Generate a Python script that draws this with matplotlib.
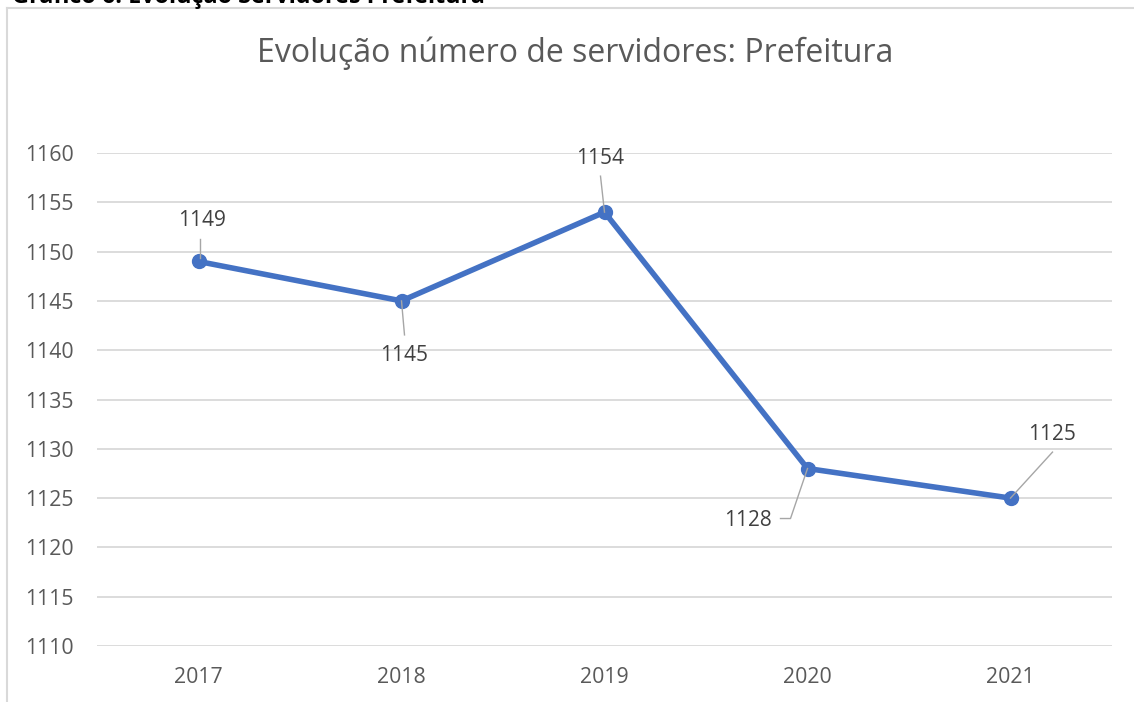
import matplotlib
matplotlib.use("Agg")
import matplotlib.pyplot as plt
from matplotlib.lines import Line2D

years = ["2017", "2018", "2019", "2020", "2021"]
servidores = [1149, 1145, 1154, 1128, 1125]
yticks = [1110, 1115, 1120, 1125, 1130, 1135, 1140, 1145, 1150, 1155, 1160]

W, H, DPI = 1134, 702, 100
fig = plt.figure(figsize=(W / DPI, H / DPI), dpi=DPI)
fig.patch.set_facecolor("white")

FONT = "Open Sans"
TICK_C = "#595959"
LBL_C = "#404040"
GRID_C = "#d9d9d9"
LINE_C = "#4472C4"

# chart-area border (left and top visible)
fig.add_artist(Line2D([7 / W, 7 / W], [0, 1 - 8 / H], transform=fig.transFigure,
                      color=GRID_C, lw=1.5))
fig.add_artist(Line2D([7 / W, 1], [1 - 8 / H, 1 - 8 / H], transform=fig.transFigure,
                      color=GRID_C, lw=1.5))

# cut-off caption above chart
fig.text(12 / W, 1 - 3 / H, "Gráfico 6: Evolução Servidores Prefeitura",
         family=FONT, fontweight="bold", fontsize=16.8, color="black",
         ha="left", va="baseline")

left, right = 97 / W, 1112 / W
bottom, top = 1 - 646 / H, 1 - 153 / H
ax = fig.add_axes([left, bottom, right - left, top - bottom])
x = list(range(len(years)))
ax.plot(x, servidores, color=LINE_C, lw=4.0, marker="o", markersize=10,
        markerfacecolor=LINE_C, markeredgecolor=LINE_C, zorder=3, clip_on=False,
        solid_capstyle="round", solid_joinstyle="round")
ax.set_xlim(-0.5, len(years) - 0.5)
ax.set_ylim(yticks[0], yticks[-1])
ax.set_yticks(yticks)
ax.set_xticks(x)
ax.set_xticklabels(years)
ax.grid(axis="y", color=GRID_C, lw=1.3)
ax.set_axisbelow(True)
for s in ax.spines.values():
    s.set_visible(False)
ax.tick_params(length=0, labelsize=15.3, labelcolor=TICK_C)
ax.tick_params(axis="y", pad=17)
ax.tick_params(axis="x", pad=15)
for lab in ax.get_xticklabels() + ax.get_yticklabels():
    lab.set_family(FONT)

# title
fig.text(575 / W, 1 - 53 / H, "Evolução número de servidores: Prefeitura",
         family=FONT, fontsize=23, color=TICK_C, ha="center", va="center")

# data labels with leader lines: text offset px, leader path offsets px
label_specs = [
    ((3, 41), [(1, 3), (1, 22)]),
    ((3, -55), [(0, 0), (3, -34)]),
    ((-4, 54), [(0, 0), (-4, 36)]),
    ((-60, -52), [(0, 0), (-17, -50), (-27, -50)]),
    ((42, 64), [(0, 0), (42, 46)]),
]
for xi, (yv, (toff, path)) in enumerate(zip(servidores, label_specs)):
    px, py = ax.transData.transform((xi, yv))
    line = Line2D([(px + p[0]) / W for p in path], [(py + p[1]) / H for p in path],
                  transform=fig.transFigure, color="#a6a6a6", lw=1.0, zorder=4)
    fig.add_artist(line)
    ax.annotate(str(yv), xy=(xi, yv), xytext=toff, textcoords="offset pixels",
                ha="center", va="center", family=FONT, fontsize=15,
                color=LBL_C, annotation_clip=False)

fig.savefig("out.png", dpi=DPI, facecolor="white")
